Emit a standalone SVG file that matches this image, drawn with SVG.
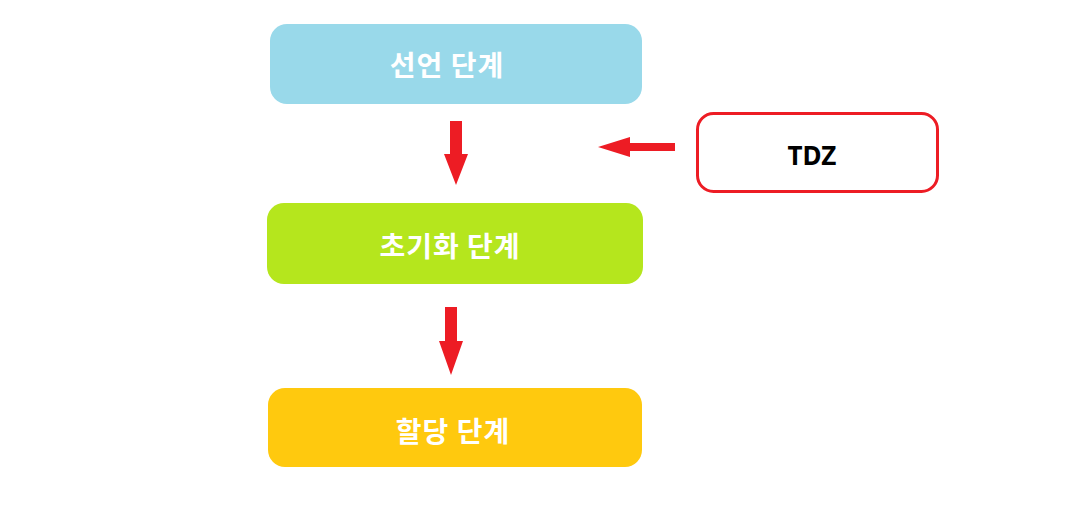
<svg xmlns="http://www.w3.org/2000/svg" width="1079" height="507" viewBox="0 0 1079 507">
<style>
.lbl{font-family:"Noto Sans CJK KR","Noto Sans",sans-serif;font-weight:bold;font-size:28px;letter-spacing:1px;fill:#ffffff;text-anchor:middle;dominant-baseline:central}
.tdz{font-family:"Noto Sans","Liberation Sans",sans-serif;font-weight:bold;font-size:26px;fill:#000000;text-anchor:middle}
.arr{fill:#ED1C24}
</style>
<rect width="1079" height="507" fill="#ffffff"/>
<g id="declare">
<rect x="270" y="24" width="372" height="80" rx="17" fill="#99D9EA"/>
<text class="lbl" x="447" y="64">선언 단계</text>
</g>
<g id="init">
<rect x="267" y="203" width="376" height="81" rx="17" fill="#B5E61D"/>
<text class="lbl" x="450" y="245">초기화 단계</text>
</g>
<g id="assign">
<rect x="268" y="388" width="374" height="79" rx="17" fill="#FFC90E"/>
<text class="lbl" x="453" y="430">할당 단계</text>
</g>
<g id="tdz">
<rect x="697.500" y="113.500" width="240" height="78" rx="16" fill="#ffffff" stroke="#ED1C24" stroke-width="3"/>
<text class="tdz" x="812" y="165">TDZ</text>
</g>
<g id="connectors">
<polygon class="arr" points="450,121 462,121 462,154 468,154 456,185 444,154 450,154"/>
<polygon class="arr" points="445,307 457,307 457,341 463,341 451,375 439,341 445,341"/>
<polygon class="arr" points="675,143 675,151 630,151 630,157 598,147 630,137 630,143"/>
</g>
</svg>
